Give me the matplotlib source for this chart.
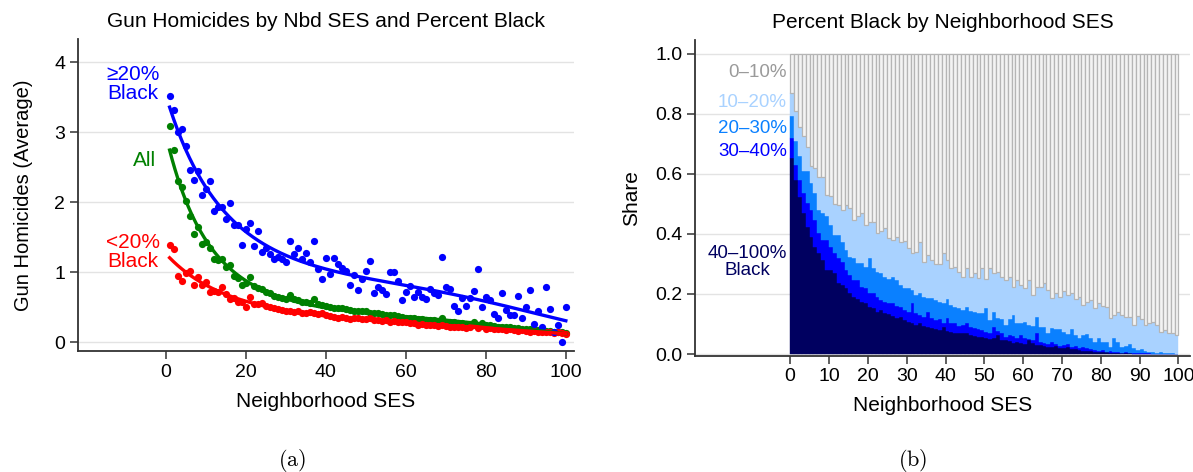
import numpy as np
import matplotlib
matplotlib.use('Agg')
from matplotlib import pyplot as plt

plt.rcParams['font.family'] = ['Liberation Sans', 'DejaVu Sans']
plt.rcParams['mathtext.fontset'] = 'cm'

# neighborhood SES percentile bins
ses = np.arange(1, 101)

# gun homicides (average) by SES bin
hom_black = [3.52, 3.32, 3.01, 3.05, 2.80, 2.46, 2.31, 2.44, 2.10, 2.19,
             2.30, 1.88, 1.93, 1.93, 1.76, 1.99, 1.67, 1.67, 1.39, 1.62,
             1.70, 1.38, 1.59, 1.29, 1.34, 1.26, 1.19, 1.22, 1.19, 1.15,
             1.45, 1.26, 1.34, 1.19, 1.28, 1.14, 1.45, 1.04, 0.90, 1.20,
             0.97, 1.20, 1.12, 1.06, 1.01, 0.82, 0.96, 0.74, 0.90, 1.02,
             1.16, 0.70, 0.79, 0.74, 0.69, 1.00, 1.00, 0.88, 0.60, 0.72,
             0.80, 0.65, 0.72, 0.65, 0.62, 0.76, 0.70, 0.67, 1.21, 0.79,
             0.76, 0.51, 0.45, 0.63, 0.51, 0.63, 0.73, 1.04, 0.50, 0.65,
             0.60, 0.40, 0.34, 0.70, 0.46, 0.39, 0.39, 0.66, 0.34, 0.50,
             0.74, 0.26, 0.45, 0.21, 0.79, 0.47, 0.15, 0.25, 0.00, 0.50]
hom_all = [3.09, 2.74, 2.30, 2.21, 2.01, 1.80, 1.54, 1.65, 1.40, 1.43,
           1.35, 1.19, 1.17, 1.19, 1.08, 1.10, 0.95, 0.91, 0.82, 0.85,
           0.93, 0.80, 0.78, 0.76, 0.72, 0.70, 0.66, 0.65, 0.63, 0.61,
           0.67, 0.62, 0.60, 0.58, 0.57, 0.56, 0.62, 0.54, 0.53, 0.52,
           0.50, 0.49, 0.48, 0.48, 0.47, 0.46, 0.45, 0.44, 0.44, 0.45,
           0.42, 0.42, 0.41, 0.40, 0.39, 0.38, 0.38, 0.37, 0.36, 0.35,
           0.34, 0.34, 0.33, 0.33, 0.32, 0.31, 0.31, 0.30, 0.35, 0.29,
           0.29, 0.28, 0.27, 0.27, 0.26, 0.26, 0.29, 0.25, 0.27, 0.24,
           0.24, 0.23, 0.22, 0.22, 0.21, 0.21, 0.20, 0.20, 0.19, 0.19,
           0.18, 0.18, 0.17, 0.17, 0.16, 0.16, 0.15, 0.15, 0.14, 0.13]
hom_nonblack = [1.39, 1.33, 0.95, 0.88, 0.99, 1.02, 0.81, 0.93, 0.81, 0.86,
                0.72, 0.73, 0.71, 0.79, 0.69, 0.61, 0.63, 0.57, 0.58, 0.50,
                0.64, 0.55, 0.54, 0.56, 0.52, 0.50, 0.49, 0.47, 0.46, 0.44,
                0.45, 0.43, 0.44, 0.42, 0.42, 0.43, 0.41, 0.40, 0.41, 0.38,
                0.37, 0.36, 0.34, 0.36, 0.35, 0.33, 0.35, 0.34, 0.33, 0.33,
                0.34, 0.32, 0.31, 0.30, 0.31, 0.29, 0.30, 0.28, 0.29, 0.28,
                0.27, 0.27, 0.25, 0.26, 0.25, 0.24, 0.25, 0.23, 0.24, 0.23,
                0.22, 0.21, 0.22, 0.21, 0.20, 0.21, 0.24, 0.20, 0.23, 0.19,
                0.20, 0.19, 0.18, 0.19, 0.17, 0.18, 0.17, 0.16, 0.17, 0.16,
                0.15, 0.16, 0.15, 0.14, 0.15, 0.14, 0.13, 0.14, 0.13, 0.12]

# share of neighborhoods at least X% Black, by SES bin
share_ge10 = [0.870, 0.810, 0.755, 0.725, 0.690, 0.625, 0.620, 0.590, 0.590, 0.530,
              0.527, 0.500, 0.496, 0.480, 0.497, 0.486, 0.447, 0.458, 0.469, 0.430,
              0.441, 0.438, 0.404, 0.410, 0.419, 0.386, 0.380, 0.389, 0.374, 0.378,
              0.352, 0.338, 0.341, 0.374, 0.308, 0.330, 0.313, 0.300, 0.300, 0.336,
              0.313, 0.286, 0.290, 0.274, 0.258, 0.286, 0.258, 0.269, 0.252, 0.286,
              0.249, 0.286, 0.271, 0.274, 0.258, 0.247, 0.258, 0.224, 0.247, 0.230,
              0.219, 0.247, 0.197, 0.224, 0.224, 0.238, 0.213, 0.188, 0.202, 0.191,
              0.211, 0.197, 0.202, 0.182, 0.191, 0.163, 0.174, 0.180, 0.152, 0.169,
              0.160, 0.158, 0.119, 0.130, 0.141, 0.130, 0.124, 0.124, 0.097, 0.127,
              0.116, 0.097, 0.102, 0.108, 0.097, 0.074, 0.080, 0.071, 0.069, 0.063]
share_ge20 = [0.793, 0.708, 0.658, 0.608, 0.608, 0.569, 0.536, 0.480, 0.469, 0.458,
              0.430, 0.397, 0.397, 0.374, 0.347, 0.324, 0.319, 0.302, 0.302, 0.291,
              0.319, 0.286, 0.274, 0.269, 0.258, 0.249, 0.256, 0.247, 0.230, 0.219,
              0.219, 0.213, 0.197, 0.202, 0.191, 0.186, 0.186, 0.180, 0.174, 0.169,
              0.182, 0.163, 0.158, 0.152, 0.147, 0.158, 0.144, 0.141, 0.136, 0.136,
              0.152, 0.113, 0.141, 0.119, 0.116, 0.097, 0.116, 0.130, 0.104, 0.102,
              0.108, 0.097, 0.093, 0.124, 0.091, 0.091, 0.069, 0.086, 0.082, 0.082,
              0.074, 0.067, 0.082, 0.063, 0.052, 0.063, 0.067, 0.052, 0.041, 0.052,
              0.041, 0.041, 0.024, 0.052, 0.041, 0.024, 0.027, 0.033, 0.019, 0.013,
              0.016, 0.011, 0.008, 0.008, 0.004, 0.008, 0.004, 0.002, 0.002, 0.001]
share_ge30 = [0.719, 0.630, 0.580, 0.536, 0.502, 0.480, 0.447, 0.402, 0.380, 0.380,
              0.358, 0.336, 0.319, 0.308, 0.280, 0.263, 0.247, 0.247, 0.224, 0.219,
              0.202, 0.202, 0.191, 0.180, 0.174, 0.169, 0.169, 0.160, 0.158, 0.147,
              0.141, 0.169, 0.136, 0.130, 0.124, 0.141, 0.119, 0.113, 0.116, 0.102,
              0.119, 0.104, 0.102, 0.093, 0.097, 0.102, 0.091, 0.086, 0.082, 0.080,
              0.074, 0.069, 0.091, 0.078, 0.069, 0.058, 0.063, 0.060, 0.052, 0.063,
              0.052, 0.049, 0.047, 0.069, 0.041, 0.036, 0.033, 0.041, 0.033, 0.027,
              0.030, 0.033, 0.024, 0.027, 0.019, 0.022, 0.019, 0.016, 0.013, 0.011,
              0.013, 0.008, 0.011, 0.008, 0.008, 0.004, 0.008, 0.004, 0.004, 0.002,
              0.002, 0.002, 0.002, 0.001, 0.001, 0.001, 0.001, 0.000, 0.000, 0.000]
share_ge40 = [0.652, 0.580, 0.524, 0.469, 0.424, 0.391, 0.358, 0.336, 0.313, 0.280,
              0.280, 0.269, 0.236, 0.230, 0.219, 0.202, 0.191, 0.182, 0.174, 0.169,
              0.158, 0.152, 0.141, 0.147, 0.136, 0.133, 0.127, 0.119, 0.124, 0.113,
              0.108, 0.104, 0.097, 0.102, 0.093, 0.089, 0.086, 0.082, 0.080, 0.091,
              0.078, 0.074, 0.071, 0.069, 0.069, 0.071, 0.063, 0.060, 0.058, 0.058,
              0.052, 0.049, 0.052, 0.063, 0.047, 0.047, 0.044, 0.038, 0.041, 0.036,
              0.033, 0.047, 0.036, 0.030, 0.030, 0.027, 0.024, 0.022, 0.027, 0.019,
              0.019, 0.022, 0.016, 0.016, 0.013, 0.011, 0.011, 0.010, 0.008, 0.008,
              0.007, 0.006, 0.004, 0.004, 0.003, 0.002, 0.002, 0.002, 0.001, 0.001,
              0.001, 0.001, 0.001, 0.000, 0.000, 0.000, 0.000, 0.000, 0.000, 0.000]

c_black, c_all, c_non = '#0000ff', '#008000', '#ff0000'
c_b40, c_b30, c_b20, c_b10 = '#000060', '#0000ff', '#0a80ff', '#a9d2ff'


def poisson_fit(x, y):
    # log-link (Poisson) regression on a cubic in SES, fitted by IRLS
    x = np.asarray(x, float)
    y = np.asarray(y, float)
    t = x / 100.0
    X = np.column_stack([np.ones_like(t), t, t ** 2, t ** 3])
    b = np.linalg.lstsq(X, np.log(y + 0.05), rcond=None)[0]
    for _ in range(50):
        eta = X @ b
        mu = np.exp(eta)
        z = eta + (y - mu) / mu
        sw = np.sqrt(mu)
        b = np.linalg.lstsq(X * sw[:, None], z * sw, rcond=None)[0]
    xs = np.linspace(x.min(), x.max(), 300)
    ts = xs / 100.0
    Xs = np.column_stack([np.ones_like(ts), ts, ts ** 2, ts ** 3])
    return xs, np.exp(Xs @ b)


def style_axes(ax):
    for s in ['top', 'right']:
        ax.spines[s].set_visible(False)
    for s in ['left', 'bottom']:
        ax.spines[s].set_color('#333333')
        ax.spines[s].set_linewidth(1.3)
    ax.tick_params(direction='out', length=6, width=1.1, color='#333333',
                   labelsize=14, pad=3)
    ax.yaxis.grid(True, color='#e3e3e3', lw=1)
    ax.set_axisbelow(True)


fig = plt.figure(figsize=(11.93, 4.72), dpi=100)

# (a) scatter + fitted curves
ax1 = fig.add_axes([0.065, 0.256, 0.416, 0.661])
style_axes(ax1)
series = [(hom_all, c_all), (hom_nonblack, c_non), (hom_black, c_black)]
for vals, col in series:
    ax1.scatter(ses, vals, s=27, color=col, lw=0, zorder=3)
for vals, col in series:
    xs, ys = poisson_fit(ses, vals)
    ax1.plot(xs, ys, color=col, lw=2.4, zorder=4)

ax1.set_xlim(-22, 102)
ax1.set_ylim(-0.13, 4.33)
ax1.set_xticks([0, 20, 40, 60, 80, 100])
ax1.set_yticks([0, 1, 2, 3, 4])
ax1.set_xlabel('Neighborhood SES', fontsize=15, labelpad=8)
ax1.set_ylabel('Gun Homicides (Average)', fontsize=14.5, labelpad=15)
ax1.set_title('Gun Homicides by Nbd SES and Percent Black', fontsize=15, pad=9)

ax1.text(-1.4, 3.69, '\u226520%\nBlack', color=c_black, fontsize=15,
         ha='right', va='center', multialignment='center', linespacing=1.0)
ax1.text(-2.4, 2.59, 'All', color=c_all, fontsize=15, ha='right', va='center')
ax1.text(-1.4, 1.29, '<20%\nBlack', color=c_non, fontsize=15,
         ha='right', va='center', multialignment='center', linespacing=1.0)

# (b) stacked share bars
ax2 = fig.add_axes([0.5826, 0.246, 0.415, 0.669])
style_axes(ax2)
left = ses - 1
ge10 = np.array(share_ge10)
ge20 = np.array(share_ge20)
ge30 = np.array(share_ge30)
ge40 = np.array(share_ge40)
ax2.bar(left, ge40, width=1, align='edge', color=c_b40, edgecolor=c_b40, lw=0.3)
ax2.bar(left, ge30 - ge40, bottom=ge40, width=1, align='edge',
        color=c_b30, edgecolor=c_b30, lw=0.3)
ax2.bar(left, ge20 - ge30, bottom=ge30, width=1, align='edge',
        color=c_b20, edgecolor=c_b20, lw=0.3)
ax2.bar(left, ge10 - ge20, bottom=ge20, width=1, align='edge',
        color=c_b10, edgecolor=c_b10, lw=0.3)
ax2.bar(left, 1 - ge10, bottom=ge10, width=1, align='edge',
        color='#f3f3f3', edgecolor='#b5b5b5', lw=0.9)

ax2.set_xlim(-24.5, 103)
ax2.set_ylim(-0.006, 1.045)
ax2.set_xticks(np.arange(0, 101, 10))
ax2.set_yticks([0, 0.2, 0.4, 0.6, 0.8, 1.0])
ax2.set_yticklabels(['0.0', '0.2', '0.4', '0.6', '0.8', '1.0'])
ax2.set_xlabel('Neighborhood SES', fontsize=15, labelpad=8)
ax2.set_ylabel('Share', fontsize=15, labelpad=10)
ax2.set_title('Percent Black by Neighborhood SES', fontsize=15, pad=9)

lab_kw = dict(fontsize=13.5, ha='right', va='center')
ax2.text(-0.8, 0.937, '0\u201310%', color='#9a9a9a', **lab_kw)
ax2.text(-0.8, 0.837, '10\u201320%', color=c_b10, **lab_kw)
ax2.text(-0.8, 0.750, '20\u201330%', color=c_b20, **lab_kw)
ax2.text(-0.8, 0.673, '30\u201340%', color=c_b30, **lab_kw)
ax2.text(-0.8, 0.307, '40\u2013100%\nBlack', color=c_b40, multialignment='center',
         linespacing=1.0, **lab_kw)

fig.text(0.245, 0.025, r'$(\mathrm{a})$', fontsize=16, ha='center', va='center')
fig.text(0.765, 0.025, r'$(\mathrm{b})$', fontsize=16, ha='center', va='center')

fig.savefig('out.png', dpi=100)
